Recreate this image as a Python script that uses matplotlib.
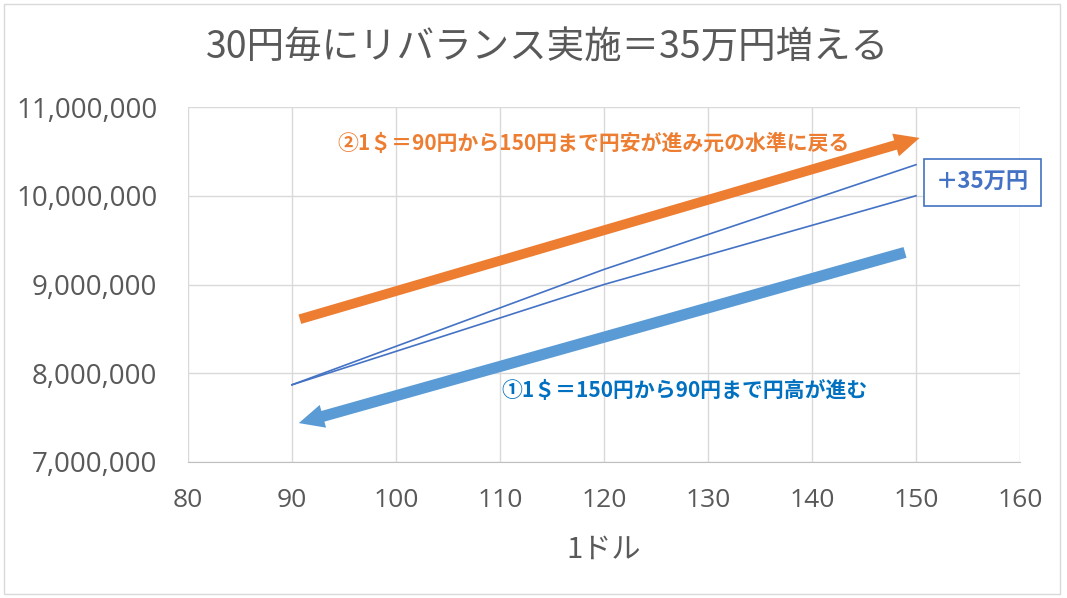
import matplotlib
matplotlib.use("Agg")
import matplotlib.pyplot as plt
from matplotlib.ticker import FuncFormatter, MultipleLocator
from matplotlib.patches import Rectangle, FancyArrowPatch

plt.rcParams['font.family'] = ['Noto Sans CJK JP', 'DejaVu Sans']

# ---- data ----
usd_jpy = [90, 120, 150]
rebalanced = [7870000, 9170000, 10350000]
buy_and_hold = [7870000, 9000000, 10000000]

title = "30円毎にリバランス実施＝35万円増える"
xlabel = "1ドル"
note_up = "②1＄＝90円から150円まで円安が進み元の水準に戻る"
note_down = "①1＄＝150円から90円まで円高が進む"
box_label = "＋35万円"

# annotation anchors (data coords)
arrow_up = [(90.5, 8600000), (150.6, 10660000)]
arrow_down = [(149.2, 9370000), (90.4, 7430000)]
note_up_pos = (119.0, 10590000)
note_down_pos = (127.7, 7810000)
box_pos = (156.4, 10150000)

xlim = (80, 160)
ylim = (7000000, 11000000)

# ---- colors ----
TXT = '#595959'
GRID = '#D9D9D9'
LINE = '#4472C4'
ORANGE = '#ED7D31'
LBLUE = '#5B9BD5'
DBLUE = '#0070C0'

fig = plt.figure(figsize=(10.67, 5.98), dpi=100)
ax = fig.add_axes([188/1067, 1-462/598, (1020-188)/1067, (462-107)/598])

ax.plot(usd_jpy, rebalanced, color=LINE, lw=1.2, zorder=3)
ax.plot(usd_jpy, buy_and_hold, color=LINE, lw=1.2, zorder=3)

ax.set_xlim(*xlim)
ax.set_ylim(*ylim)
ax.xaxis.set_major_locator(MultipleLocator(10))
ax.yaxis.set_major_locator(MultipleLocator(1000000))
ax.yaxis.set_major_formatter(FuncFormatter(lambda v, p: f"{v:,.0f}"))
ax.grid(True, color=GRID, lw=1)
ax.set_axisbelow(True)
for s in ['top', 'right', 'left']:
    ax.spines[s].set_visible(False)
ax.spines['bottom'].set_color('#BFBFBF')
ax.tick_params(axis='both', length=0, colors=TXT)
ax.tick_params(axis='y', pad=22, labelsize=20)
ax.tick_params(axis='x', pad=19, labelsize=19)
for lab in ax.get_yticklabels():
    lab.set_family(['Open Sans', 'DejaVu Sans'])
for lab in ax.get_xticklabels():
    lab.set_family(['Open Sans', 'DejaVu Sans'])

# arrows
a1 = FancyArrowPatch(arrow_up[0], arrow_up[1], arrowstyle='simple,head_length=1.8,head_width=1.7,tail_width=0.7',
                     mutation_scale=10, color=ORANGE, lw=0, zorder=4)
ax.add_patch(a1)
a2 = FancyArrowPatch(arrow_down[0], arrow_down[1], arrowstyle='simple,head_length=1.8,head_width=1.7,tail_width=0.8',
                     mutation_scale=10, color=LBLUE, lw=0, zorder=4)
ax.add_patch(a2)

ax.text(*note_up_pos, note_up, color=ORANGE, fontsize=15, fontweight='bold',
        ha='center', va='center', zorder=5)
ax.text(*note_down_pos, note_down, color=DBLUE, fontsize=15, fontweight='bold',
        ha='center', va='center', zorder=5)
ax.text(*box_pos, box_label, color=LINE, fontsize=16, fontweight='bold',
        ha='center', va='center', zorder=6, clip_on=False,
        bbox=dict(boxstyle='square,pad=0.55', fc='white', ec=LINE, lw=1.2))

fig.text(548/1067, 1-48/598, title, fontsize=27, color=TXT, ha='center', va='center')
fig.text(604/1067, 1-550/598, xlabel, fontsize=21, color=TXT, ha='center', va='center')

fig.patches.append(Rectangle((4/1067, 4/598), 1056/1067, 590/598, transform=fig.transFigure,
                             fill=False, ec=GRID, lw=1))

fig.savefig('out.png', dpi=100, facecolor='white')
